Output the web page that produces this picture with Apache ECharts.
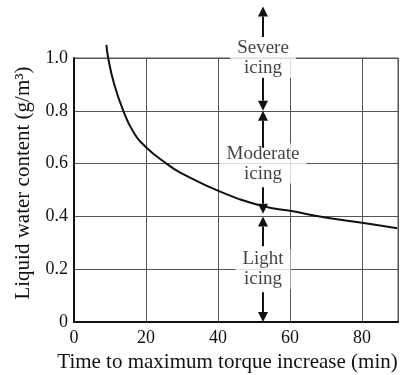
<!DOCTYPE html>
<html><head><meta charset="utf-8">
<script src="https://cdn.jsdelivr.net/npm/echarts@6/dist/echarts.min.js"></script>
<style>html,body{margin:0;padding:0;background:#fff}#c{width:403px;height:375px}</style>
</head><body><div id="c"></div>
<script>
// Curve: time (min) vs liquid water content (g/m3)
var curveTime = [9.0, 9.5, 11.1, 13.7, 16.5, 20, 25.7, 29.4, 40.6, 52.5, 60, 71.1, 80, 89.8];
var curveLWC  = [1.05, 1.0, 0.904, 0.8, 0.72, 0.662, 0.6, 0.567, 0.494, 0.439, 0.421, 0.393, 0.376, 0.355];
var xTicks = [0, 20, 40, 60, 80];
var yTicks = [0, 0.2, 0.4, 0.6, 0.8, 1.0];
// Icing category annotation
var arrowX = 52.5;
var bandLabels = ['Severe\nicing', 'Moderate\nicing', 'Light\nicing'];
var bandLabelY = [1.0, 0.6, 0.2];
// arrow segments [fromY, toY] (arrow head at toY)
var arrowSegs = [[1.08, 1.195], [0.925, 0.8], [0.66, 0.8], [0.51, 0.41], [0.287, 0.4], [0.113, 0.0]];

var font = 'Liberation Serif';
var chart = echarts.init(document.getElementById('c'));
chart.setOption({
  animation: false,
  backgroundColor: '#fff',
  grid: { left: 74, right: 5, top: 58, bottom: 53, show: true, borderColor: '#555', borderWidth: 1,
          containLabel: false, outerBoundsMode: 'none' },
  xAxis: {
    type: 'value', min: 0, max: 90, interval: 20,
    name: 'Time to maximum torque increase (min)', nameLocation: 'middle', nameGap: 26,
    nameTextStyle: { fontFamily: font, fontSize: 21, color: '#111', padding: [0, 17, 0, 0] },
    axisLine: { show: true, onZero: false, lineStyle: { color: '#111', width: 2 } },
    axisTick: { show: false },
    axisLabel: { fontFamily: font, fontSize: 18, color: '#111', margin: 7,
      formatter: function (v) { return xTicks.indexOf(v) >= 0 ? String(v) : ''; } },
    splitLine: { show: true, lineStyle: { color: '#555', width: 1 } }
  },
  yAxis: {
    type: 'value', min: 0, max: 1.0, interval: 0.2,
    name: 'Liquid water content (g/m³)', nameLocation: 'middle', nameGap: 40,
    nameTextStyle: { fontFamily: font, fontSize: 21, color: '#111', padding: [0, 0, 0, 14] },
    axisLine: { show: true, onZero: false, lineStyle: { color: '#111', width: 2 } },
    axisTick: { show: false },
    axisLabel: { fontFamily: font, fontSize: 18, color: '#111', margin: 6,
      formatter: function (v) {
        for (var i = 0; i < yTicks.length; i++) if (Math.abs(yTicks[i] - v) < 1e-6) return v === 0 ? '0' : v.toFixed(1);
        return '';
      } },
    splitLine: { show: true, lineStyle: { color: '#555', width: 1 } }
  },
  series: [
    {
      type: 'line', clip: false, smooth: 0.5, showSymbol: false, symbol: 'none',
      lineStyle: { color: '#111', width: 2 },
      data: curveTime.map(function (t, i) { return [t, curveLWC[i]]; }),
      z: 3
    },
    {
      type: 'scatter', clip: false, symbolSize: 0, z: 5,
      data: bandLabelY.map(function (y) { return [arrowX, y]; }),
      label: {
        show: true, position: 'inside',
        formatter: function (p) { return bandLabels[p.dataIndex]; },
        fontFamily: font, fontSize: 19, lineHeight: 20, color: '#111',
        backgroundColor: '#fff', padding: [0, 7], align: 'center', verticalAlign: 'middle'
      }
    },
    {
      type: 'custom', clip: false, z: 6, silent: true,
      data: arrowSegs.map(function (s) { return [arrowX, s[0], s[1]]; }),
      encode: { x: 0, y: [1, 2] },
      renderItem: function (params, api) {
        var p0 = api.coord([api.value(0), api.value(1)]);
        var p1 = api.coord([api.value(0), api.value(2)]);
        var dir = p1[1] > p0[1] ? 1 : -1;
        var headLen = 10, halfW = 5;
        var base = p1[1] - dir * headLen;
        return {
          type: 'group',
          children: [
            { type: 'line', shape: { x1: p0[0], y1: p0[1], x2: p0[0], y2: base },
              style: { stroke: '#111', lineWidth: 2 } },
            { type: 'polygon', shape: { points: [[p1[0], p1[1]], [p1[0] - halfW, base], [p1[0] + halfW, base]] },
              style: { fill: '#111' } }
          ]
        };
      }
    }
  ]
});
</script>
</body></html>
